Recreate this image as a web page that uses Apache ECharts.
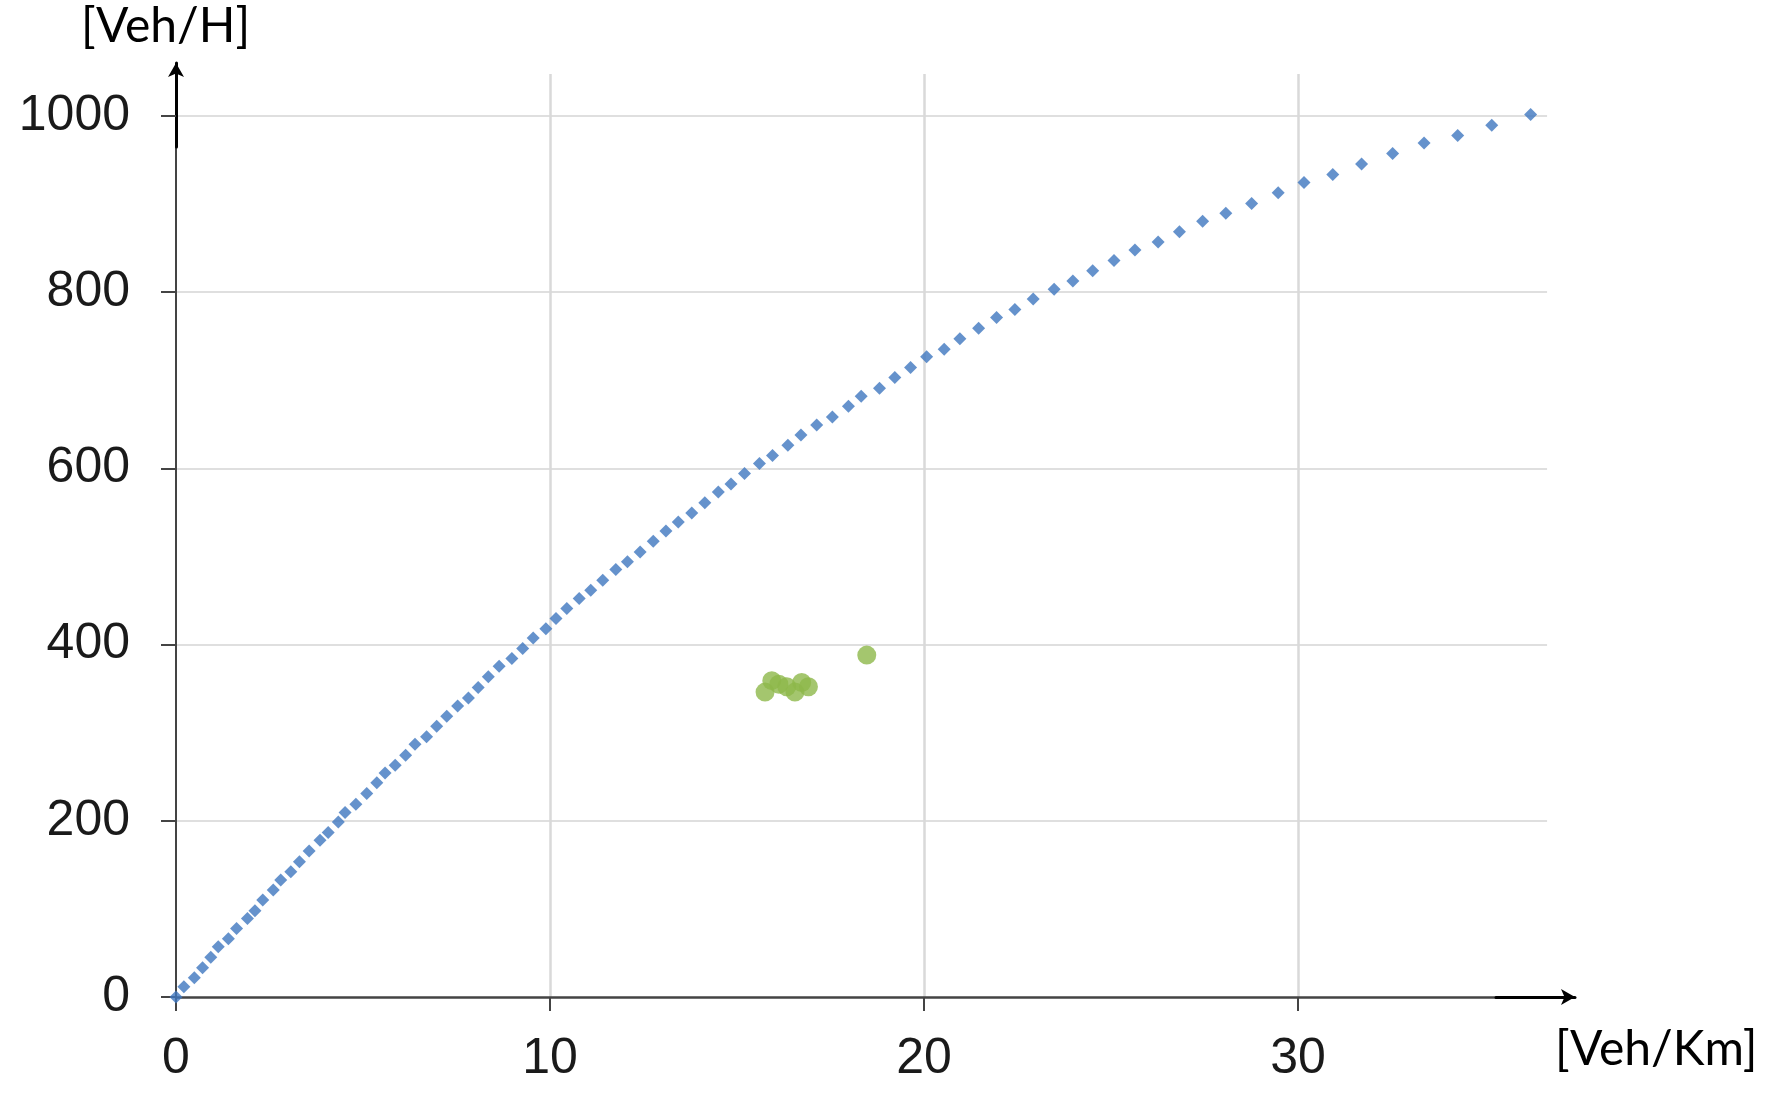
<!DOCTYPE html>
<html><head><meta charset="utf-8">
<script src="https://cdn.jsdelivr.net/npm/echarts@6/dist/echarts.min.js"></script>
<style>html,body{margin:0;padding:0;background:#fff}#c{width:1777px;height:1113px}</style>
</head><body><div id="c"></div>
<script>
// ---- data (density [Veh/Km], flow [Veh/H]) ----
const densityBlue = [0, 0.21, 0.49, 0.71, 0.93, 1.13, 1.40, 1.62, 1.91, 2.11, 2.32, 2.60, 2.80, 3.07, 3.30, 3.56, 3.85, 4.07, 4.34, 4.52,
  4.81, 5.10, 5.37, 5.59, 5.86, 6.14, 6.39, 6.70, 6.97, 7.24, 7.53, 7.82, 8.08, 8.35, 8.64, 8.98, 9.27, 9.55, 9.89, 10.16,
  10.45, 10.78, 11.09, 11.41, 11.76, 12.07, 12.41, 12.76, 13.10, 13.43, 13.79, 14.14, 14.50, 14.84, 15.20, 15.60, 15.95, 16.36, 16.71, 17.13,
  17.55, 17.98, 18.32, 18.81, 19.22, 19.64, 20.07, 20.54, 20.96, 21.46, 21.94, 22.43, 22.92, 23.48, 23.98, 24.51, 25.08, 25.64, 26.26, 26.83,
  27.45, 28.07, 28.76, 29.47, 30.16, 30.93, 31.70, 32.53, 33.37, 34.27, 35.18, 36.22];
const flowBlue = [0, 11.5, 21.8, 33.1, 45, 57, 66, 77.8, 89.2, 97.8, 110, 121.3, 132.7, 142, 153.4, 165.8, 177.9, 186.6, 198.6, 209.3,
  218.8, 230.9, 243, 254.3, 263, 274.4, 286.8, 295.2, 307.3, 318.6, 330.3, 339.4, 351.2, 363.3, 375.4, 384.1, 395.5, 407.5, 418, 429.4,
  440.8, 452.1, 461.6, 473, 485.1, 493.8, 505.1, 517.2, 528.9, 539, 549.3, 561, 573.2, 582.3, 594, 605.4, 614.5, 626.1, 637.8, 649.2,
  658.3, 670.4, 681.8, 690.9, 703, 714.4, 726.5, 735.2, 747, 759, 771, 780.3, 792, 803.3, 812.4, 824.1, 835.9, 847.6, 856.7, 868.4,
  880.2, 889.3, 900.6, 912.6, 924.4, 933.5, 945.2, 957.3, 969, 977.7, 989.4, 1001.5];
const densityGreen = [15.75, 15.93, 16.12, 16.33, 16.55, 16.73, 16.91, 18.47];
const flowGreen = [346, 359, 355, 352, 346, 357, 352, 388];
const xTickValues = [0, 10, 20, 30];
const yTickValues = [0, 200, 400, 600, 800, 1000];
const xName = '[Veh/Km]';
const yName = '[Veh/H]';

// ---- layout (pixels) ----
const X0 = 176, Y0 = 997, KX = 37.4, KY = 0.8812;
const xGridMax = 36.66, yGridMax = 1047.4;
const xTickMax = xTickValues[xTickValues.length - 1], yTickMax = yTickValues[yTickValues.length - 1];
const AXIS_GREY = '#444';
const LABEL_FONT = "'Liberation Sans', Arial, sans-serif";
const NAME_FONT = "Lato, 'Open Sans', sans-serif";

const chart = echarts.init(document.getElementById('c'), null, {renderer: 'canvas'});
const hidden = {show: false};
const plain = v => String(v);
const option = {
  animation: false,
  backgroundColor: '#ffffff',
  title: [
    {text: yName, left: 81, top: 3, padding: 0,
     textStyle: {fontFamily: NAME_FONT, fontSize: 48, fontWeight: 'normal', color: '#000'}},
    {text: xName, left: 1555, top: 1026, padding: 0,
     textStyle: {fontFamily: NAME_FONT, fontSize: 48, fontWeight: 'normal', color: '#000'}}
  ],
  grid: [
    {left: X0, top: Y0 - yGridMax * KY, width: xGridMax * KX, height: yGridMax * KY},
    {left: X0, top: Y0 - yTickMax * KY, width: xTickMax * KX, height: yTickMax * KY},
    {left: X0, top: 147, width: 1496 - X0, height: Y0 - 147},
    {left: X0, top: 63, width: 10, height: 147 - 63},
    {left: 1496, top: Y0 - 50, width: 1575 - 1496, height: 50}
  ],
  xAxis: [
    {gridIndex: 0, type: 'value', min: 0, max: xGridMax, interval: 10,
     axisLine: hidden, axisTick: hidden, axisLabel: hidden,
     splitLine: {show: true, showMinLine: false, showMaxLine: false, lineStyle: {color: '#d9d9d9', width: 2.5}}},
    {gridIndex: 1, type: 'value', min: 0, max: xTickMax, interval: 10,
     axisLine: hidden, splitLine: hidden,
     axisTick: {show: true, length: 14, lineStyle: {color: AXIS_GREY, width: 2}},
     axisLabel: {show: true, margin: 37, fontSize: 50, fontFamily: LABEL_FONT, color: '#1a1a1a', formatter: plain}},
    {gridIndex: 2, type: 'value', min: 0, max: 1,
     axisLine: {show: true, lineStyle: {color: AXIS_GREY, width: 2.5}},
     axisTick: hidden, axisLabel: hidden, splitLine: hidden},
    {gridIndex: 3, type: 'value', min: 0, max: 1, show: false},
    {gridIndex: 4, type: 'value', min: 0, max: 1,
     axisLine: {show: true, symbol: ['none', 'arrow'], symbolSize: [12, 14], lineStyle: {color: '#000', width: 3}},
     axisTick: hidden, axisLabel: hidden, splitLine: hidden}
  ],
  yAxis: [
    {gridIndex: 0, type: 'value', min: 0, max: yGridMax, interval: 200,
     axisLine: hidden, axisTick: hidden, axisLabel: hidden,
     splitLine: {show: true, showMinLine: false, showMaxLine: false, lineStyle: {color: '#d4d4d4', width: 1.5}}},
    {gridIndex: 1, type: 'value', min: 0, max: yTickMax, interval: 200,
     axisLine: hidden, splitLine: hidden,
     axisTick: {show: true, length: 15, lineStyle: {color: AXIS_GREY, width: 2}},
     axisLabel: {show: true, margin: 46, fontSize: 50, fontFamily: LABEL_FONT, color: '#1a1a1a', formatter: plain}},
    {gridIndex: 2, type: 'value', min: 0, max: 1,
     axisLine: {show: true, lineStyle: {color: AXIS_GREY, width: 2}},
     axisTick: hidden, axisLabel: hidden, splitLine: hidden},
    {gridIndex: 3, type: 'value', min: 0, max: 1,
     axisLine: {show: true, symbol: ['none', 'arrow'], symbolSize: [12, 14], lineStyle: {color: '#000', width: 3}},
     axisTick: hidden, axisLabel: hidden, splitLine: hidden},
    {gridIndex: 4, type: 'value', min: 0, max: 1, show: false}
  ],
  series: [
    {type: 'scatter', xAxisIndex: 0, yAxisIndex: 0, symbol: 'diamond', symbolSize: 13,
     itemStyle: {color: '#3f77bf'}, z: 3,
     data: densityBlue.map((d, i) => [d, flowBlue[i]])},
    {type: 'scatter', xAxisIndex: 0, yAxisIndex: 0, symbol: 'circle', symbolSize: 19,
     itemStyle: {color: '#8db84a'}, z: 3,
     data: densityGreen.map((d, i) => [d, flowGreen[i]])}
  ]
};
chart.setOption(option);
</script>
</body></html>
